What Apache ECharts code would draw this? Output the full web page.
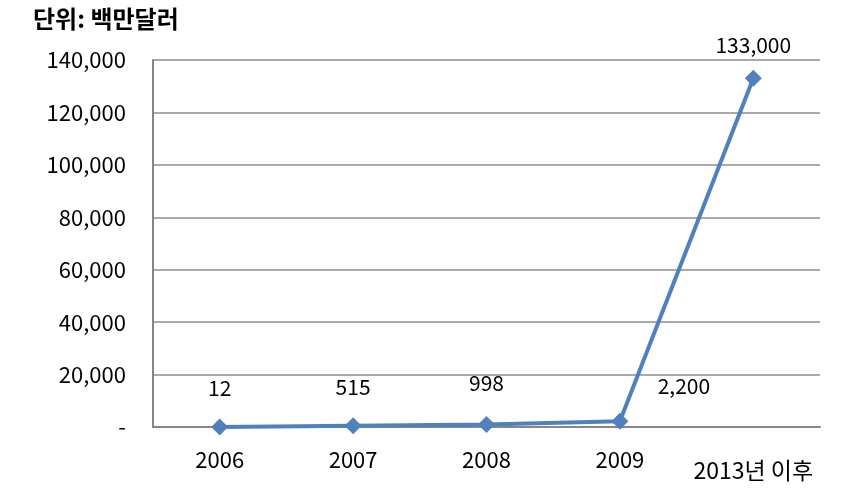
<!DOCTYPE html>
<html>
<head>
<meta charset="utf-8">
<script src="https://cdn.jsdelivr.net/npm/echarts@6/dist/echarts.min.js"></script>
<style>
html,body{margin:0;padding:0;background:#fff;}
#c{width:858px;height:498px;}
</style>
</head>
<body>
<div id="c"></div>
<script>
const categories = ['2006', '2007', '2008', '2009', '2013년 이후'];
const values = [12, 515, 998, 2200, 133000];
const yTicks = { min: 0, max: 140000, interval: 20000 };
const unitTitle = '단위: 백만달러';

const FONT = '"Noto Sans CJK KR", "Noto Sans", sans-serif';
const fmt = v => v === 0 ? '-' : v.toLocaleString('en-US');

const labelOffsets = [[0, 0], [0, 0], [0, -2], [64, 4], [0, 6]];

const chart = echarts.init(document.getElementById('c'), null, { renderer: 'canvas' });
chart.setOption({
  animation: false,
  backgroundColor: '#ffffff',
  title: {
    text: unitTitle,
    left: 28, top: 2,
    textStyle: { fontFamily: FONT, fontSize: 24, fontWeight: 'bold', color: '#000' }
  },
  grid: { left: 153, right: 38, top: 60, bottom: 71 },
  xAxis: {
    type: 'category',
    data: categories.map((c, i) => i === categories.length - 1
      ? { value: c, textStyle: { padding: [10, 0, 0, 0], fontSize: 23 } } : c),
    boundaryGap: true,
    axisLine: { show: true, lineStyle: { color: '#868686', width: 2 } },
    axisTick: { show: false },
    axisLabel: { fontFamily: FONT, fontSize: 22, color: '#000', margin: 22, interval: 0 },
    splitLine: { show: false }
  },
  yAxis: {
    type: 'value',
    min: yTicks.min, max: yTicks.max, interval: yTicks.interval,
    axisLine: { show: true, lineStyle: { color: '#868686', width: 2 } },
    axisTick: { show: false },
    axisLabel: { fontFamily: FONT, fontSize: 22, color: '#000', margin: 27, formatter: fmt },
    splitLine: { show: true, lineStyle: { color: '#8c8c8c', width: 1.5 } }
  },
  series: [{
    type: 'line',
    data: values.map((v, i) => ({ value: v, label: { offset: labelOffsets[i] } })),
    symbol: 'diamond',
    symbolSize: 17,
    lineStyle: { color: '#4F81BD', width: 4 },
    itemStyle: { color: '#4F81BD' },
    label: {
      show: true, position: 'top', distance: 20,
      fontFamily: FONT, fontSize: 21, color: '#000',
      formatter: p => p.value.toLocaleString('en-US')
    },
    z: 3
  }]
});
</script>
</body>
</html>
